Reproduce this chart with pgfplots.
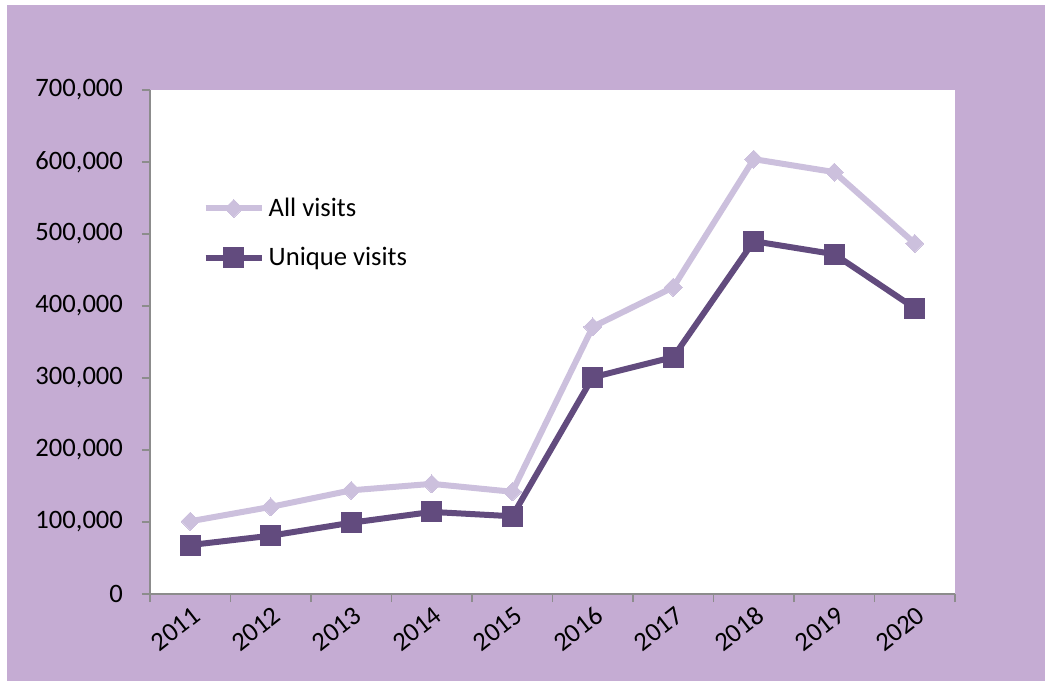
\documentclass[border=0pt]{standalone}
\usepackage{pgfplots}
\pgfplotsset{compat=1.18}
\usepackage{fontspec}
\setmainfont{Carlito}
\definecolor{bgpurple}{HTML}{C5ACD3}
\definecolor{allc}{HTML}{CCC0DD}
\definecolor{uniq}{HTML}{624B7E}
\definecolor{axgray}{HTML}{8C8C8C}
\begin{document}
\begin{tikzpicture}
\fill[white] (0,0) rectangle (522.5pt,340.5pt);
\fill[bgpurple] (3.5pt,0) rectangle (522.5pt,338pt);
\path[use as bounding box] (0,0) rectangle (522.5pt,340.5pt);
\begin{axis}[
  at={(75pt,43.5pt)}, anchor=south west,
  scale only axis, width=402.5pt, height=252pt,
  xmin=-0.5, xmax=9.5, ymin=0, ymax=700000,
  axis lines=left,
  axis line style={draw=axgray, line width=0.9pt, -},
  axis background/.style={fill=white},
  xtick={0,...,9},
  xticklabels={2011,2012,2013,2014,2015,2016,2017,2018,2019,2020},
  major x tick style={draw=none},
  minor xtick={-0.5,0.5,...,9.5},
  minor x tick style={draw=axgray, line width=0.9pt},
  ytick={0,100000,...,700000},
  y tick style={draw=axgray, line width=0.9pt},
  tick align=outside,
  major tick length=4pt, minor tick length=4pt,
  scaled y ticks=false,
  yticklabel style={/pgf/number format/fixed, /pgf/number format/1000 sep={,}, font=\fontsize{13.3}{15}\selectfont, xshift=-6pt},
  xticklabel style={rotate=38, anchor=east, font=\fontsize{13.3}{15}\selectfont, xshift=3pt, yshift=-6pt},
  /pgf/number format/assume math mode=true,
  legend style={at={(0.065,0.795)}, anchor=north west, draw=none, fill=none,
    font=\fontsize{13.3}{15}\selectfont, row sep=10pt, inner sep=0pt,
    /tikz/every even column/.append style={column sep=1pt}},
  legend cell align=left,
  legend image code/.code={\draw[mark repeat=2,mark phase=2] plot coordinates {(0pt,0pt) (14pt,0pt) (28pt,0pt)};},
]
\addplot[color=allc, line width=3pt, mark=square*, mark size=3.2pt, mark options={rotate=45, line width=0pt}]
coordinates {(0,101000) (1,121000) (2,144000) (3,153000) (4,142000) (5,371000) (6,426000) (7,604000) (8,586000) (9,487000)};
\addlegendentry{All visits}
\addplot[color=uniq, line width=3pt, mark=square*, mark size=5pt, mark options={line width=0pt}]
coordinates {(0,68000) (1,81000) (2,99000) (3,114000) (4,108000) (5,301000) (6,329000) (7,490000) (8,472000) (9,397000)};
\addlegendentry{Unique visits}
\end{axis}
\end{tikzpicture}
\end{document}
